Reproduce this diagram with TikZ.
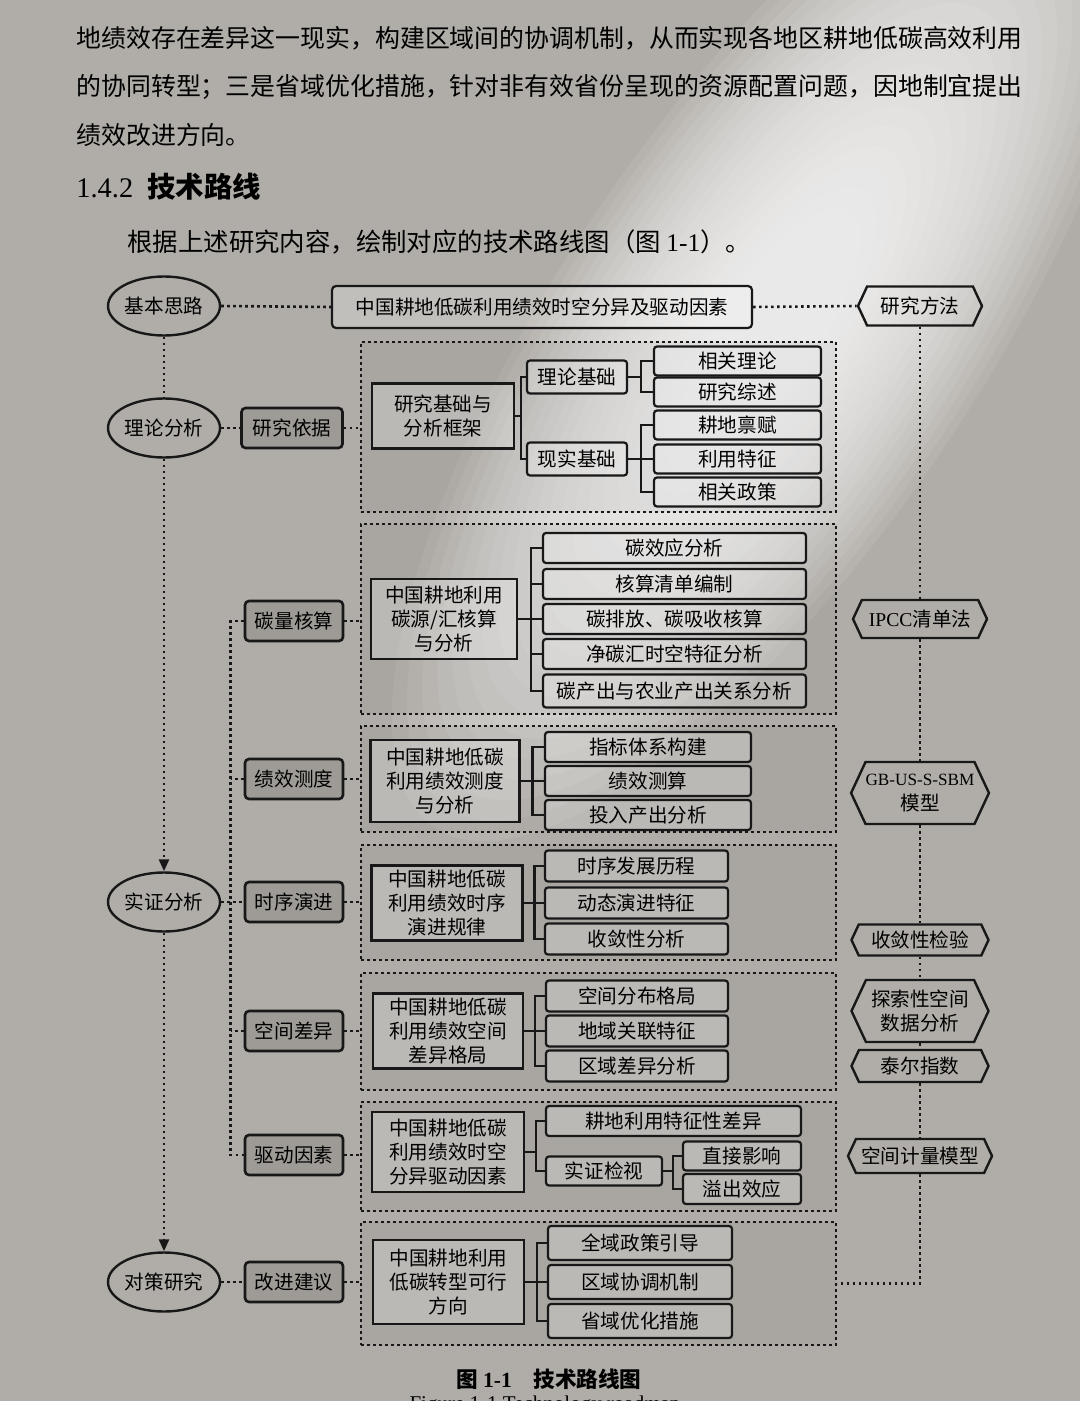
\documentclass[tikz,border=0pt]{standalone}
\usepackage{fontspec}
\setmainfont{Noto Sans CJK SC}
\newfontfamily\latinfont{Liberation Serif}
\usetikzlibrary{arrows.meta,positioning,shapes.geometric,shapes.symbols}

\definecolor{pagegray}{RGB}{176,173,168}
\definecolor{ink}{RGB}{24,24,24}
\newcommand\bodyfont{\fontsize{12.45pt}{15pt}\selectfont}
\newcommand\boxfont{\fontsize{9.8pt}{12.2pt}\selectfont}

\begin{document}
\begin{tikzpicture}[
  x=0.5pt, y=-0.5pt,
  oval/.style={ellipse, draw=ink, line width=1.2pt, minimum width=56pt, minimum height=29.5pt, inner sep=0pt, font=\boxfont},
  labbox/.style={draw=ink, line width=1.3pt, rounded corners=2pt, fill=black, fill opacity=0.1, text opacity=1, minimum width=49pt, minimum height=20pt, inner sep=0pt, font=\boxfont},
  headbox/.style={draw=ink, line width=1.1pt, fill=white, fill opacity=0.22, text opacity=1, align=center, inner sep=0pt, font=\boxfont},
  subbox/.style={headbox, rounded corners=1.5pt},
  hexbox/.style={signal, signal to=east and west, signal pointer angle=130, draw=ink, line width=1.2pt, align=center, inner xsep=2pt, inner ysep=1pt, font=\boxfont},
  grp/.style={draw=ink, line width=1.3pt, dash pattern=on 1.3pt off 1.7pt, fill=black, fill opacity=0.04, inner sep=0pt, minimum width=237.5pt},
  dotline/.style={draw=ink, line width=1.3pt, dash pattern=on 1.3pt off 1.7pt},
  dotarr/.style={dotline, -{Triangle[width=5pt,length=6pt]}},
  tree/.style={draw=ink, line width=1.2pt}
]
\useasboundingbox (0,0) rectangle (1080,1401);
\clip (0,0) rectangle (1080,1401);
% page and light
\fill[pagegray] (0,0) rectangle (1080,1401);
\foreach \i in {0,...,19}
  \fill[white, opacity=0.08, rotate around={56:(770,330)}] (770,330) ellipse [x radius={(1-\i*0.04)*300pt}, y radius={(1-\i*0.04)*105pt}];

% text above
\node[anchor=west, inner sep=0pt, font=\bodyfont] (p1) at (76,38) {地绩效存在差异这一现实，构建区域间的协调机制，从而实现各地区耕地低碳高效利用};
\node[anchor=west, inner sep=0pt, font=\bodyfont] (p2) at (76,87) {的协同转型；三是省域优化措施，针对非有效省份呈现的资源配置问题，因地制宜提出};
\node[anchor=west, inner sep=0pt, font=\bodyfont] (p3) at (76,135) {绩效改进方向。};
\node[anchor=west, inner sep=0pt, font=\fontsize{14.2pt}{17pt}\selectfont\bfseries] (sec) at (76,187) {{\latinfont\mdseries 1.4.2}\enspace 技术路线};
\node[anchor=west, inner sep=0pt, font=\fontsize{12.7pt}{15pt}\selectfont] (p4) at (127,242) {根据上述研究内容，绘制对应的技术路线图（图 {\latinfont 1-1}）。};

% left column
\node[oval] (jbsl) at (164,306) {基本思路};
\node[oval] (llfx) at (164,428) {理论分析};
\node[oval] (szfx) at (164,902) {实证分析};
\node[oval] (dcyj) at (164,1282) {对策研究};

\node[headbox, rounded corners=2pt, minimum width=210pt, minimum height=21pt] (topic) at (542,307) {中国耕地低碳利用绩效时空分异及驱动因素};

% second column
\node[labbox, minimum width=50.5pt] (yjyj) at (292,428) {研究依据};
\node[labbox] (tlhs) at (294,621) {碳量核算};
\node[labbox] (jxcd) at (294,779) {绩效测度};
\node[labbox] (sxyj) at (294,902) {时序演进};
\node[labbox] (kjcy) at (294,1031) {空间差异};
\node[labbox] (qdys) at (294,1155) {驱动因素};
\node[labbox] (gjjy) at (294,1282) {改进建议};

% groups
\node[grp, minimum height=85pt] (g1) at (598.5,427) {};
\node[grp, minimum height=95pt] (g2) at (598.5,619) {};
\node[grp, minimum height=53pt] (g3) at (598.5,779) {};
\node[grp, minimum height=57.5pt] (g4) at (598.5,902.5) {};
\node[grp, minimum height=58.5pt] (g5) at (598.5,1031.5) {};
\node[grp, minimum height=54.5pt] (g6) at (598.5,1156.5) {};
\node[grp, minimum height=61.5pt] (g7) at (598.5,1283.5) {};

% group 1
\node[headbox, minimum width=71pt, minimum height=32.5pt] (g1p) at (443,416) {研究基础与\\分析框架};
\node[subbox, minimum width=50pt, minimum height=16.5pt] (g1a) at (577,377) {理论基础};
\node[subbox, minimum width=50pt, minimum height=16.5pt] (g1b) at (577,459) {现实基础};
\node[subbox, minimum width=83.5pt, minimum height=14.5pt] (g1a1) at (737.5,361) {相关理论};
\node[subbox, minimum width=83.5pt, minimum height=14.5pt] (g1a2) at (737.5,392) {研究综述};
\node[subbox, minimum width=83.5pt, minimum height=14.5pt] (g1b1) at (737.5,425) {耕地禀赋};
\node[subbox, minimum width=83.5pt, minimum height=14.5pt] (g1b2) at (737.5,459) {利用特征};
\node[subbox, minimum width=83.5pt, minimum height=14.5pt] (g1b3) at (737.5,492) {相关政策};
\foreach \c in {g1a,g1b} \draw[tree] (g1p.east) -- ++(6,0) |- (\c.west);
\foreach \c in {g1a1,g1a2} \draw[tree] (g1a.east) -- ++(13,0) |- (\c.west);
\foreach \c in {g1b1,g1b2,g1b3} \draw[tree] (g1b.east) -- ++(13,0) |- (\c.west);

% group 2
\node[headbox, minimum width=73pt, minimum height=40pt] (g2p) at (444,619) {中国耕地利用\\碳源/汇核算\\与分析};
\node[subbox, minimum width=131.5pt, minimum height=15pt] (g2a) at (674.5,548) {碳效应分析};
\node[subbox, minimum width=131.5pt, minimum height=15pt] (g2b) at (674.5,584) {核算清单编制};
\node[subbox, minimum width=131.5pt, minimum height=15pt] (g2c) at (674.5,619) {碳排放、碳吸收核算};
\node[subbox, minimum width=131.5pt, minimum height=15pt] (g2d) at (674.5,654) {净碳汇时空特征分析};
\node[subbox, minimum width=131.5pt, minimum height=16.5pt] (g2e) at (674.5,691) {碳产出与农业产出关系分析};
\foreach \c in {g2a,g2b,g2c,g2d,g2e} \draw[tree] (g2p.east) -- ++(13,0) |- (\c.west);

% group 3
\node[headbox, minimum width=74.5pt, minimum height=41pt] (g3p) at (445,781) {中国耕地低碳\\利用绩效测度\\与分析};
\node[subbox, minimum width=103pt, minimum height=15pt] (g3a) at (648,747) {指标体系构建};
\node[subbox, minimum width=103pt, minimum height=15pt] (g3b) at (648,781) {绩效测算};
\node[subbox, minimum width=103pt, minimum height=15pt] (g3c) at (648,815) {投入产出分析};
\foreach \c in {g3a,g3b,g3c} \draw[tree] (g3p.east) -- ++(12,0) |- (\c.west);

% group 4
\node[headbox, minimum width=75.5pt, minimum height=37.5pt] (g4p) at (447,903) {中国耕地低碳\\利用绩效时序\\演进规律};
\node[subbox, minimum width=91.5pt, minimum height=15.5pt] (g4a) at (636.5,866) {时序发展历程};
\node[subbox, minimum width=91.5pt, minimum height=15.5pt] (g4b) at (636.5,903) {动态演进特征};
\node[subbox, minimum width=91.5pt, minimum height=15.5pt] (g4c) at (636.5,939) {收敛性分析};
\foreach \c in {g4a,g4b,g4c} \draw[tree] (g4p.east) -- ++(11,0) |- (\c.west);

% group 5
\node[headbox, minimum width=75pt, minimum height=37.5pt] (g5p) at (448,1031) {中国耕地低碳\\利用绩效空间\\差异格局};
\node[subbox, minimum width=91pt, minimum height=15.5pt] (g5a) at (637,996) {空间分布格局};
\node[subbox, minimum width=91pt, minimum height=15.5pt] (g5b) at (637,1031) {地域关联特征};
\node[subbox, minimum width=91pt, minimum height=15.5pt] (g5c) at (637,1066) {区域差异分析};
\foreach \c in {g5a,g5b,g5c} \draw[tree] (g5p.east) -- ++(11,0) |- (\c.west);

% group 6
\node[headbox, minimum width=76pt, minimum height=40pt] (g6p) at (448,1152) {中国耕地低碳\\利用绩效时空\\分异驱动因素};
\node[subbox, minimum width=127.5pt, minimum height=15pt] (g6a) at (673.5,1121) {耕地利用特征性差异};
\node[subbox, minimum width=58pt, minimum height=14.5pt] (g6b) at (604,1171) {实证检视};
\node[subbox, minimum width=59pt, minimum height=14.5pt] (g6b1) at (742,1156) {直接影响};
\node[subbox, minimum width=59pt, minimum height=15pt] (g6b2) at (742,1189) {溢出效应};
\foreach \c in {g6a,g6b} \draw[tree] (g6p.east) -- ++(11,0) |- (\c.west);
\foreach \c in {g6b1,g6b2} \draw[tree] (g6b.east) -- ++(10,0) |- (\c.west);

% group 7
\node[headbox, minimum width=75.5pt, minimum height=42pt] (g7p) at (448.5,1282) {中国耕地利用\\低碳转型可行\\方向};
\node[subbox, minimum width=92pt, minimum height=17pt] (g7a) at (640,1243) {全域政策引导};
\node[subbox, minimum width=92pt, minimum height=17pt] (g7b) at (640,1282) {区域协调机制};
\node[subbox, minimum width=92pt, minimum height=17pt] (g7c) at (640,1321) {省域优化措施};
\foreach \c in {g7a,g7b,g7c} \draw[tree] (g7p.east) -- ++(12,0) |- (\c.west);

% methods
\node[hexbox, minimum width=62pt, minimum height=19.5pt] (yjff) at (920,306) {研究方法};
\node[hexbox, minimum width=67pt, minimum height=19pt] (ipcc) at (920,619) {{\latinfont IPCC}清单法};
\node[hexbox, minimum width=68pt, minimum height=31pt, inner xsep=0pt] (sbm) at (920,793) {{\latinfont\fontsize{8.6pt}{11pt}\selectfont GB-US-S-SBM}\\模型};
\node[hexbox, minimum width=68.5pt, minimum height=15.5pt] (slx) at (920,940) {收敛性检验};
\node[hexbox, minimum width=68.5pt, minimum height=31pt] (esda) at (920,1011) {探索性空间\\数据分析};
\node[hexbox, minimum width=68.5pt, minimum height=16pt] (theil) at (920,1066) {泰尔指数};
\node[hexbox, minimum width=72pt, minimum height=17pt] (jlmx) at (920,1156) {空间计量模型};

% dotted links
\draw[dotline] (jbsl.east) -- (topic.west);
\draw[dotline] (topic.east) -- (yjff.west);
\draw[dotline] (jbsl.south) -- (llfx.north);
\draw[dotarr] (llfx.south) -- (szfx.north);
\draw[dotarr] (szfx.south) -- (dcyj.north);
\draw[dotline] (llfx.east) -- (yjyj.west);
\draw[dotline] (szfx.east) -- (sxyj.west);
\draw[dotline] (dcyj.east) -- (gjjy.west);
\draw[dotline] (tlhs.west) -- ++(-13,0) |- (qdys.west);
\foreach \a in {jxcd,kjcy} \draw[dotline] (\a.west) -- ++(-13,0);
\foreach \a/\g in {yjyj/g1,tlhs/g2,jxcd/g3,sxyj/g4,kjcy/g5,qdys/g6,gjjy/g7}
  \draw[dotline] (\a.east) -- (\a.east -| \g.west);
\draw[dotline] (yjff.south) -- (ipcc.north);
\draw[dotline] (ipcc.south) -- (sbm.north);
\draw[dotline] (sbm.south) -- (slx.north);
\draw[dotline] (slx.south) -- (esda.north);
\draw[dotline] (esda.south) -- (theil.north);
\draw[dotline] (theil.south) -- (jlmx.north);
\draw[dotline] (jlmx.south) |- (g7.east);

% caption
\node[font=\fontsize{10.8pt}{13pt}\selectfont\bfseries] (cap) at (549,1379) {图 {\latinfont 1-1}\quad 技术路线图};
\node[font=\latinfont\fontsize{10.5pt}{13pt}\selectfont] (capen) at (545,1405) {Figure 1-1 Technology roadmap};
\end{tikzpicture}
\end{document}
